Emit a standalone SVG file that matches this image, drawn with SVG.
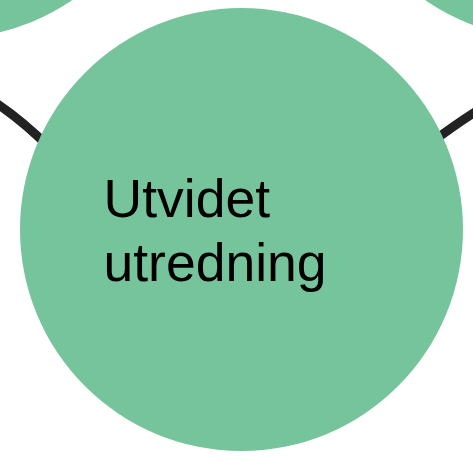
<svg xmlns="http://www.w3.org/2000/svg" width="473" height="467" viewBox="0 0 473 467">
<style>
.node{fill:#76c49b}
.conn{fill:none;stroke:#222222;stroke-width:9}
.lbl{font-family:"Liberation Sans",Arial,sans-serif;font-size:53.5px;fill:#000000}
</style>
<rect width="473" height="467" fill="#ffffff"/>
<g id="connectors">
<path class="conn" d="M-10,99 Q20,118 50,148"/>
<path class="conn" d="M483,107 Q460,121 432,142"/>
</g>
<g id="node-top-left">
<circle class="node" cx="-52.5" cy="-183" r="221.5"/>
</g>
<g id="node-top-right">
<circle class="node" cx="550.6" cy="-182.5" r="221.5"/>
</g>
<g id="node-main">
<circle class="node" cx="241.5" cy="229.5" r="221.5"/>
<text class="lbl" x="103.5" y="217">Utvidet</text>
<text class="lbl" x="103.5" y="281">utredning</text>
</g>
</svg>
